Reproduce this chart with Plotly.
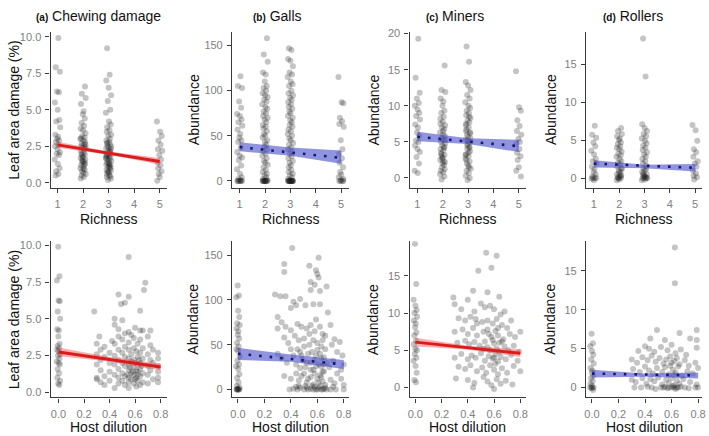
import plotly.graph_objects as go

# ---------------- data ----------------
# hand-typed jitter offsets (fraction of the jitter width)
jit = [0.31, -0.62, 0.84, -0.18, 0.52, -0.91, 0.07, 0.69, -0.43, 0.95, -0.74, 0.22, -0.09, 0.61, -0.52,
       0.38, -0.83, 0.02, 0.88, -0.29, 0.57, -0.97, 0.14, 0.76, -0.47, 0.33, -0.66, 0.92, -0.13, 0.45,
       -0.78, 0.26, -0.56, 0.65, -0.36, 0.04, -0.87, 0.81, -0.06, 0.49, -0.25, 0.72, -0.69, 0.17, -0.94,
       0.58, -0.39, 0.11, 0.98, -0.51, 0.29, -0.81, 0.63, -0.16, 0.41, -0.72, 0.86, -0.33, 0.19, -0.59]

richness_levels = [1, 2, 3, 5]

# (a) chewing damage, % leaf area
chew_mono = [9.9, 7.9, 7.6, 6.25, 6.2, 5.5, 5.0, 4.3, 4.2, 3.8, 3.3, 3.15, 3.0, 2.9, 2.8, 2.6, 2.5, 2.3,
             2.1, 2.0, 1.9, 1.6, 1.3, 1.0, 0.8, 0.6, 0.5]
chew_r2 = [6.6, 6.1, 5.8, 5.4, 4.9, 4.7, 4.4, 4.1, 3.9, 3.7, 3.6, 3.4, 3.2, 3.1, 3.0, 2.9, 2.8, 2.7, 2.6,
           2.5, 2.45, 2.4, 2.3, 2.2, 2.1, 2.0, 1.95, 1.9, 1.8, 1.7, 1.6, 1.5, 1.45, 1.4, 1.3, 1.2, 1.1,
           1.0, 0.9, 0.8, 0.7, 0.6, 0.5, 0.4, 0.3, 2.35, 1.75, 1.25, 3.05, 2.65, 1.55, 0.95]
chew_r3 = [9.2, 7.4, 7.0, 6.5, 6.0, 5.6, 5.0, 4.8, 4.2, 4.0, 3.8, 3.6, 3.5, 3.3, 3.2, 3.0, 2.9, 2.8, 2.7,
           2.6, 2.5, 2.4, 2.35, 2.3, 2.2, 2.1, 2.0, 1.95, 1.9, 1.8, 1.75, 1.7, 1.6, 1.55, 1.5, 1.4, 1.3,
           1.25, 1.2, 1.1, 1.0, 0.9, 0.85, 0.8, 0.7, 0.6, 0.5, 0.4, 0.3, 0.2, 2.15, 1.65, 1.35, 1.05,
           2.75, 2.45, 1.85, 1.15, 0.75, 0.45]
chew_r5 = [4.2, 3.5, 3.2, 2.9, 2.6, 2.3, 2.2, 1.9, 1.6, 1.4, 1.2, 1.0, 0.8, 0.6, 0.4, 0.15]
chew_mix = [(0.28, 5.5), (0.30, 3.3), (0.30, 2.6), (0.30, 1.9), (0.30, 1.0), (0.30, 0.9), (0.32, 3.8),
            (0.33, 2.9), (0.33, 2.2), (0.33, 1.5), (0.33, 0.7), (0.36, 3.1), (0.36, 2.4), (0.36, 1.1),
            (0.36, 0.5), (0.40, 2.7), (0.40, 2.0), (0.40, 1.4), (0.40, 0.8), (0.42, 3.5), (0.44, 5.0),
            (0.44, 4.6), (0.44, 3.3), (0.44, 2.5), (0.44, 1.9), (0.44, 1.2), (0.44, 0.3), (0.47, 6.65),
            (0.47, 4.3), (0.47, 3.8), (0.47, 2.9), (0.47, 2.2), (0.47, 1.6), (0.47, 1.0), (0.47, 0.6),
            (0.49, 6.0), (0.50, 4.9), (0.50, 3.6), (0.50, 2.7), (0.50, 2.0), (0.50, 1.3), (0.50, 0.8),
            (0.52, 6.1), (0.52, 4.0), (0.52, 3.1), (0.52, 2.4), (0.52, 1.8), (0.52, 1.1), (0.52, 0.5),
            (0.55, 9.2), (0.55, 6.5), (0.55, 4.1), (0.55, 3.4), (0.55, 2.9), (0.55, 2.3), (0.55, 1.9),
            (0.55, 1.5), (0.55, 1.0), (0.55, 0.7), (0.55, 0.3), (0.57, 3.9), (0.57, 2.6), (0.57, 2.1),
            (0.57, 1.3), (0.57, 0.9), (0.59, 3.7), (0.59, 3.0), (0.59, 2.2), (0.59, 1.7), (0.59, 1.2),
            (0.59, 0.6), (0.60, 4.4), (0.61, 2.8), (0.61, 1.5), (0.61, 1.0), (0.61, 0.4), (0.62, 3.3),
            (0.62, 2.4), (0.62, 1.9), (0.62, 1.4), (0.62, 0.8), (0.64, 5.55), (0.64, 4.2), (0.64, 3.6),
            (0.64, 2.7), (0.64, 2.0), (0.64, 1.6), (0.64, 1.1), (0.64, 0.5), (0.66, 4.2), (0.66, 3.0),
            (0.66, 2.3), (0.66, 1.3), (0.66, 0.7), (0.67, 6.95), (0.68, 7.45), (0.70, 3.8), (0.70, 2.6),
            (0.70, 1.8), (0.70, 1.2), (0.70, 0.6), (0.72, 4.2), (0.72, 3.2), (0.72, 2.2), (0.72, 1.5),
            (0.74, 2.9), (0.74, 2.0), (0.74, 0.9), (0.78, 2.7), (0.78, 2.3), (0.78, 1.8), (0.78, 1.4),
            (0.78, 1.0), (0.78, 0.7), (0.58, 1.4), (0.60, 0.9), (0.62, 1.2), (0.63, 2.2), (0.56, 1.7),
            (0.65, 1.8), (0.54, 1.2), (0.60, 2.0)]

# (b) galls, abundance
galls_mono = [116, 105, 103, 88, 81, 74, 72, 68, 65, 61, 57, 52, 48, 45, 43, 37, 32, 28, 26, 23, 17, 13,
              8, 4, 2, 1, 0, 0, 0, 0, 0, 0]
galls_r2 = [158, 140, 132, 120, 118, 110, 105, 103, 100, 97, 95, 93, 90, 88, 85, 82, 80, 77, 75, 72, 70,
            68, 65, 62, 60, 58, 55, 52, 50, 48, 45, 43, 40, 38, 35, 33, 30, 28, 25, 22, 20, 18, 15, 12,
            10, 8, 6, 4, 2, 1, 0, 0, 0, 0, 0, 0, 0, 0, 0, 0]
galls_r3 = [147, 145, 135, 133, 127, 120, 118, 115, 110, 107, 105, 100, 97, 95, 92, 90, 87, 85, 82, 80,
            77, 75, 72, 70, 67, 65, 62, 60, 57, 55, 52, 50, 47, 45, 42, 40, 37, 35, 32, 30, 27, 25, 22,
            20, 17, 15, 12, 10, 8, 6, 4, 2, 1, 0, 0, 0, 0, 0, 0, 0, 0, 0, 0, 0, 0, 0, 0]
galls_r5 = [115, 87, 86, 70, 66, 63, 60, 45, 35, 30, 25, 20, 15, 10, 7, 4, 2, 1, 0, 0, 0, 0]
galls_mix = [(0.41, 158), (0.35, 140), (0.35, 131), (0.54, 138), (0.61, 147), (0.59, 133), (0.60, 129),
             (0.61, 125), (0.55, 120), (0.58, 117), (0.55, 111), (0.62, 110), (0.67, 115), (0.28, 106),
             (0.32, 104), (0.36, 104), (0.47, 101), (0.42, 98), (0.44, 94), (0.40, 91), (0.51, 94),
             (0.57, 95), (0.62, 95), (0.68, 86), (0.59, 78), (0.30, 81), (0.33, 75), (0.36, 70),
             (0.30, 68), (0.40, 66), (0.45, 73), (0.48, 70), (0.52, 68), (0.55, 72), (0.58, 65),
             (0.62, 70), (0.64, 62), (0.70, 72), (0.73, 56), (0.77, 53), (0.35, 58), (0.38, 52),
             (0.43, 60), (0.46, 55), (0.50, 57), (0.54, 50), (0.57, 55), (0.60, 52), (0.63, 48),
             (0.66, 45), (0.71, 50), (0.75, 42), (0.79, 38), (0.30, 40), (0.33, 35), (0.37, 30),
             (0.40, 45), (0.42, 38), (0.44, 28), (0.47, 42), (0.49, 33), (0.51, 25), (0.53, 40),
             (0.55, 30), (0.57, 22), (0.59, 38), (0.61, 28), (0.63, 35), (0.65, 20), (0.67, 30),
             (0.69, 25), (0.72, 32), (0.75, 18), (0.78, 22), (0.80, 28), (0.35, 15), (0.40, 12),
             (0.44, 18), (0.46, 10), (0.48, 15), (0.52, 8), (0.55, 14), (0.57, 6), (0.60, 12),
             (0.62, 16), (0.64, 9), (0.66, 5), (0.70, 11), (0.73, 7), (0.78, 12), (0.80, 5), (0.39, 0),
             (0.42, 1), (0.45, 0), (0.47, 2), (0.50, 0), (0.53, 0), (0.55, 1), (0.57, 0), (0.59, 0),
             (0.61, 2), (0.63, 0), (0.64, 0), (0.65, 1), (0.67, 0), (0.70, 0), (0.74, 0), (0.80, 0),
             (0.60, 0), (0.52, 2), (0.44, 3), (0.45, 45), (0.48, 38), (0.50, 48), (0.52, 30),
             (0.54, 62), (0.56, 42), (0.58, 33), (0.60, 44), (0.62, 40), (0.63, 26), (0.64, 55),
             (0.65, 36), (0.66, 60), (0.55, 22), (0.58, 18), (0.61, 8), (0.63, 14), (0.65, 28),
             (0.47, 24), (0.50, 18), (0.53, 12), (0.56, 4), (0.59, 26), (0.62, 4), (0.64, 20),
             (0.46, 4), (0.51, 4), (0.58, 3), (0.66, 2), (0.72, 3)]

# (c) miners, abundance
miners_mono = [19.3, 13.9, 11.8, 11.0, 10.4, 10.0, 9.5, 9.0, 8.6, 8.1, 7.4, 7.0, 6.3, 5.8, 5.2, 5.0, 4.5,
               4.0, 3.6, 2.9, 2.0, 1.0, 0.7]
miners_r2 = [15.6, 12.2, 11.9, 11.0, 10.6, 10.0, 9.3, 9.0, 8.5, 8.2, 7.8, 7.3, 7.0, 6.8, 6.3, 6.0, 5.8,
             5.5, 5.2, 5.0, 4.8, 4.5, 4.2, 4.0, 3.8, 3.5, 3.2, 3.0, 2.8, 2.5, 2.2, 2.0, 1.8, 1.5, 1.2,
             1.0, 0.8, 0.5, 0.2, -0.2, 6.5, 5.3, 3.3, 2.3, 7.5, 4.3, 2.7]
miners_r3 = [18.2, 16.1, 13.3, 12.8, 12.2, 11.5, 11.0, 10.5, 10.0, 9.7, 9.3, 9.0, 8.7, 8.3, 8.0, 7.7,
             7.3, 7.0, 6.7, 6.3, 6.0, 5.7, 5.3, 5.0, 4.7, 4.3, 4.0, 3.7, 3.3, 3.0, 2.7, 2.3, 2.0, 1.7,
             1.3, 1.0, 0.7, 0.3, 0.0, -0.3, 8.5, 6.5, 5.5, 4.5, 3.5, 2.5, 1.5, 7.5, 6.2, 5.2, 4.2, 3.2]
miners_r5 = [14.8, 9.8, 9.3, 8.0, 7.2, 6.5, 6.0, 5.4, 5.0, 4.7, 4.0, 3.5, 3.0, 2.5, 1.5, 1.0, 0.2]
miners_mix = [(0.54, 18.1), (0.62, 17.7), (0.48, 15.7), (0.58, 16.1), (0.29, 12.1), (0.44, 13.0),
              (0.55, 12.8), (0.64, 12.2), (0.30, 11.2), (0.35, 10.5), (0.40, 11.8), (0.45, 10.2),
              (0.50, 11.3), (0.53, 10.8), (0.57, 11.0), (0.60, 10.5), (0.65, 9.8), (0.68, 10.2),
              (0.33, 9.3), (0.38, 9.0), (0.42, 9.5), (0.46, 9.2), (0.51, 8.8), (0.55, 9.0), (0.59, 8.6),
              (0.62, 9.2), (0.66, 8.4), (0.70, 8.0), (0.73, 9.0), (0.30, 7.5), (0.36, 7.8), (0.40, 7.2),
              (0.44, 8.0), (0.47, 7.0), (0.52, 7.5), (0.56, 7.2), (0.58, 6.8), (0.61, 7.6), (0.63, 7.0),
              (0.67, 6.5), (0.72, 7.2), (0.76, 6.8), (0.80, 7.5), (0.32, 6.0), (0.38, 6.3), (0.41, 5.8),
              (0.45, 6.1), (0.49, 5.6), (0.53, 6.2), (0.55, 5.4), (0.60, 5.9), (0.62, 5.2), (0.64, 6.0),
              (0.68, 5.5), (0.71, 5.0), (0.75, 5.6), (0.79, 4.8), (0.30, 4.0), (0.35, 4.5), (0.40, 3.8),
              (0.43, 4.3), (0.46, 4.0), (0.50, 4.6), (0.53, 3.6), (0.56, 4.2), (0.59, 3.9), (0.61, 4.5),
              (0.63, 3.5), (0.65, 4.1), (0.69, 3.8), (0.73, 4.4), (0.78, 3.6), (0.33, 2.8), (0.38, 2.5),
              (0.42, 3.0), (0.47, 2.2), (0.51, 2.7), (0.54, 2.0), (0.57, 3.0), (0.60, 2.4), (0.63, 1.8),
              (0.66, 2.6), (0.70, 2.0), (0.75, 2.9), (0.80, 2.2), (0.31, 1.2), (0.40, 1.0), (0.45, 0.6),
              (0.52, 1.4), (0.55, 0.8), (0.58, 0.3), (0.62, 1.1), (0.65, 0.5), (0.69, 0.9), (0.74, 0.4),
              (0.44, 0.0), (0.60, -0.2), (0.57, 5.0), (0.59, 6.4), (0.61, 3.2), (0.63, 8.0), (0.64, 4.8),
              (0.55, 7.8), (0.52, 5.2), (0.47, 8.6), (0.66, 6.2), (0.60, 4.0)]

# (d) rollers, abundance
rollers_mono = [6.9, 5.7, 5.3, 4.7, 4.2, 3.6, 3.1, 2.5, 2.2, 1.9, 1.5, 1.2, 0.8, 0.5, 0.2, 0.0, -0.1,
                -0.3, 0.0, 0.0]
rollers_r2 = [6.6, 6.2, 5.8, 5.5, 5.2, 5.0, 4.7, 4.5, 4.2, 4.0, 3.8, 3.5, 3.2, 3.0, 2.8, 2.5, 2.2, 2.0,
              1.8, 1.5, 1.2, 1.0, 0.8, 0.5, 0.3, 0.1, 0.0, 0.0, -0.2, -0.3, 1.3, 0.7, 0.2, 0.0, 0.4]
rollers_r3 = [18.4, 13.4, 7.1, 6.6, 6.2, 5.8, 5.5, 5.2, 4.9, 4.6, 4.3, 4.0, 3.7, 3.4, 3.1, 2.8, 2.5, 2.2,
              1.9, 1.6, 1.3, 1.0, 0.8, 0.5, 0.3, 0.1, 0.0, 0.0, 0.0, -0.2, -0.3, 1.2, 0.6, 0.2, 0.0, 0.4]
rollers_r5 = [7.0, 6.3, 4.9, 3.8, 3.4, 2.8, 2.2, 1.9, 1.5, 1.0, 0.6, 0.3, 0.1, -0.2]
rollers_mix = [(0.625, 18.0), (0.625, 13.4), (0.49, 7.4), (0.79, 7.4), (0.66, 7.0), (0.44, 6.3),
               (0.55, 6.1), (0.74, 6.3), (0.79, 6.1), (0.79, 5.1), (0.35, 4.7), (0.40, 5.3), (0.43, 5.0),
               (0.47, 4.6), (0.52, 5.2), (0.57, 4.8), (0.60, 5.5), (0.63, 4.4), (0.67, 4.9), (0.71, 4.2),
               (0.30, 3.6), (0.34, 3.2), (0.38, 3.9), (0.42, 3.5), (0.45, 4.1), (0.48, 3.3), (0.51, 3.8),
               (0.54, 3.1), (0.56, 3.6), (0.59, 4.0), (0.62, 3.4), (0.64, 3.8), (0.66, 3.0), (0.70, 3.5),
               (0.73, 2.8), (0.78, 3.2), (0.31, 2.4), (0.36, 2.0), (0.40, 2.7), (0.43, 2.2), (0.46, 1.8),
               (0.49, 2.5), (0.53, 2.0), (0.55, 2.6), (0.58, 1.7), (0.61, 2.3), (0.63, 1.9), (0.65, 2.7),
               (0.68, 1.5), (0.72, 2.1), (0.76, 1.8), (0.80, 2.5), (0.30, 1.0), (0.33, 0.7), (0.38, 1.2),
               (0.41, 0.5), (0.44, 1.1), (0.47, 0.8), (0.50, 1.3), (0.53, 0.4), (0.56, 1.0), (0.58, 0.6),
               (0.60, 1.2), (0.62, 0.3), (0.64, 0.9), (0.66, 0.5), (0.69, 1.1), (0.74, 0.7), (0.79, 0.4),
               (0.32, 0.0), (0.37, 0.0), (0.42, 0.1), (0.45, 0.0), (0.48, -0.2), (0.52, 0.0), (0.55, 0.1),
               (0.57, -0.1), (0.60, 0.0), (0.62, 0.0), (0.63, -0.2), (0.65, 0.0), (0.67, 0.1), (0.70, 0.0),
               (0.73, -0.1), (0.78, 0.0), (0.80, 0.0), (0.58, 0.0), (0.61, 0.2), (0.64, 0.0), (0.54, 0.0),
               (0.59, 2.8), (0.62, 1.6), (0.60, 3.2)]

# fitted lines and confidence bands (start / middle / end)
rich_line_x = [1, 5]
rich_band_x = [1, 3, 5]
dil_line_x = [0, 0.8]
dil_band_x = [0, 0.4, 0.8]

chew_rich_fit = [2.6, 1.47]
chew_rich_lo = [2.4, 1.92, 1.25]
chew_rich_hi = [2.82, 2.15, 1.7]
chew_dil_fit = [2.75, 1.72]
chew_dil_lo = [2.45, 2.1, 1.5]
chew_dil_hi = [3.05, 2.4, 1.95]

galls_rich_fit = [37.5, 25.5]
galls_rich_lo = [32.8, 28, 19]
galls_rich_hi = [42.7, 37, 33.6]
galls_dil_fit = [40, 28]
galls_dil_lo = [33, 31, 23]
galls_dil_hi = [46.5, 39, 33]

miners_rich_fit = [5.7, 4.4]
miners_rich_lo = [5.1, 4.7, 3.6]
miners_rich_hi = [6.4, 5.5, 5.3]
miners_dil_fit = [6.1, 4.6]
miners_dil_lo = [5.5, 5.1, 4.1]
miners_dil_hi = [6.7, 5.6, 5.1]

rollers_rich_fit = [1.9, 1.35]
rollers_rich_lo = [1.4, 1.3, 0.85]
rollers_rich_hi = [2.35, 1.75, 1.85]
rollers_dil_fit = [1.8, 1.55]
rollers_dil_lo = [1.3, 1.4, 1.15]
rollers_dil_hi = [2.3, 1.8, 1.95]

# ---------------- figure ----------------
RED = "#dc1c1c"
RED_BAND = "rgba(232,80,80,0.45)"
NAVY = "#171773"
BLUE_BAND = "rgba(70,76,200,0.6)"
W, H = 709, 436

fig = go.Figure()


def ax_id(k):
    return "" if k == 1 else str(k)


def jittered(level, vals, width, shift):
    return [level + width * jit[(i + shift) % len(jit)] for i in range(len(vals))]


def add_points(k, xs, ys):
    fig.add_trace(go.Scatter(
        x=xs, y=ys, mode="markers",
        marker=dict(size=6, color="#1a1a1a", opacity=0.26, line=dict(width=0)),
        xaxis="x" + ax_id(k), yaxis="y" + ax_id(k), showlegend=False, hoverinfo="skip"))


def add_fit(k, lx, ly, bx, lo, hi, significant):
    fig.add_trace(go.Scatter(
        x=bx + bx[::-1], y=hi + lo[::-1], fill="toself", mode="lines", line=dict(width=0),
        fillcolor=RED_BAND if significant else BLUE_BAND,
        xaxis="x" + ax_id(k), yaxis="y" + ax_id(k), showlegend=False, hoverinfo="skip"))
    if significant:
        line = dict(color=RED, width=3)
    else:
        line = dict(color=NAVY, width=2.6, dash="2.6px,8px")
    fig.add_trace(go.Scatter(
        x=lx, y=ly, mode="lines", line=line,
        xaxis="x" + ax_id(k), yaxis="y" + ax_id(k), showlegend=False, hoverinfo="skip"))


top = [
    (chew_mono, chew_r2, chew_r3, chew_r5, chew_rich_fit, chew_rich_lo, chew_rich_hi, True),
    (galls_mono, galls_r2, galls_r3, galls_r5, galls_rich_fit, galls_rich_lo, galls_rich_hi, False),
    (miners_mono, miners_r2, miners_r3, miners_r5, miners_rich_fit, miners_rich_lo, miners_rich_hi, False),
    (rollers_mono, rollers_r2, rollers_r3, rollers_r5, rollers_rich_fit, rollers_rich_lo, rollers_rich_hi, False),
]
bottom = [
    (chew_mono, chew_mix, chew_dil_fit, chew_dil_lo, chew_dil_hi, True),
    (galls_mono, galls_mix, galls_dil_fit, galls_dil_lo, galls_dil_hi, False),
    (miners_mono, miners_mix, miners_dil_fit, miners_dil_lo, miners_dil_hi, True),
    (rollers_mono, rollers_mix, rollers_dil_fit, rollers_dil_lo, rollers_dil_hi, False),
]

for c, (mono, r2, r3, r5, fit, lo, hi, sig) in enumerate(top):
    k = c + 1
    xs, ys = [], []
    for s, (lvl, vals) in enumerate(zip(richness_levels, [mono, r2, r3, r5])):
        xs += jittered(lvl, vals, 0.11, 7 * s)
        ys += vals
    add_points(k, xs, ys)
    add_fit(k, rich_line_x, fit, rich_band_x, lo, hi, sig)

for c, (mono, mix, fit, lo, hi, sig) in enumerate(bottom):
    k = c + 5
    xs = jittered(0, mono, 0.014, 3) + [p[0] for p in mix]
    ys = mono + [p[1] for p in mix]
    add_points(k, xs, ys)
    add_fit(k, dil_line_x, fit, dil_band_x, lo, hi, sig)

# panel geometry in pixels
cols_px = [(49, 166), (232, 350), (411, 528), (589, 706)]
rows_px = [(28, 186), (240, 398)]

top_x_ranges = [[0.73, 5.27], [0.70, 5.31], [0.69, 5.27], [0.69, 5.27]]
top_y_ranges = [[-0.34, 10.34], [-7.7, 165.3], [-1.37, 20.27], [-1.3, 19.3]]
bot_x_ranges = [[-0.062, 0.847], [-0.045, 0.84], [-0.044, 0.84], [-0.045, 0.83]]
bot_y_ranges = [[-0.34, 10.27], [-8.8, 165.4], [-1.33, 19.65], [-1.27, 18.8]]
y_ticks = [
    ([0, 2.5, 5, 7.5, 10], ["0.0", "2.5", "5.0", "7.5", "10.0"]),
    ([0, 50, 100, 150], ["0", "50", "100", "150"]),
    ([0, 5, 10, 15, 20], ["0", "5", "10", "15", "20"]),
    ([0, 5, 10, 15], ["0", "5", "10", "15"]),
]
y_ticks_bottom = [
    y_ticks[0], y_ticks[1],
    ([0, 5, 10, 15], ["0", "5", "10", "15"]),
    ([0, 5, 10, 15], ["0", "5", "10", "15"]),
]

axis_style = dict(
    showline=True, linecolor="#3a3a3a", linewidth=1.2, ticks="outside", ticklen=4,
    tickcolor="#3a3a3a", tickwidth=1, showgrid=False, zeroline=False, fixedrange=True,
    tickfont=dict(size=11, color="#808080"), ticklabelstandoff=2,
)

layout = {}
for r in range(2):
    for c in range(4):
        k = r * 4 + c + 1
        x0, x1 = cols_px[c]
        y0, y1 = rows_px[r]
        xa = dict(axis_style, domain=[x0 / W, x1 / W], anchor="y" + ax_id(k))
        ya = dict(axis_style, domain=[1 - y1 / H, 1 - y0 / H], anchor="x" + ax_id(k))
        if r == 0:
            xa.update(range=top_x_ranges[c], tickvals=[1, 2, 3, 4, 5], ticktext=["1", "2", "3", "4", "5"])
            ya.update(range=top_y_ranges[c], tickvals=y_ticks[c][0], ticktext=y_ticks[c][1])
        else:
            xa.update(range=bot_x_ranges[c], tickvals=[0, 0.2, 0.4, 0.6, 0.8],
                      ticktext=["0.0", "0.2", "0.4", "0.6", "0.8"])
            ya.update(range=bot_y_ranges[c], tickvals=y_ticks_bottom[c][0], ticktext=y_ticks_bottom[c][1])
        layout["xaxis" + ax_id(k)] = xa
        layout["yaxis" + ax_id(k)] = ya

annotations = []
titles = [("(a)", "Chewing damage", 97), ("(b)", "Galls", 278), ("(c)", "Miners", 457), ("(d)", "Rollers", 636)]
for tag, name, cx in titles:
    annotations.append(dict(
        text="<b><span style='font-size:10px'>" + tag + "</span></b> " + name,
        x=cx / W, y=1 - 12 / H, xref="paper", yref="paper", showarrow=False,
        font=dict(size=14, color="#111111"), xanchor="center", yanchor="middle"))

y_title_x = [12, 193, 375, 553]
y_titles = ["Leaf area damage (%)", "Abundance", "Abundance", "Abundance"]
for r in range(2):
    y0, y1 = rows_px[r]
    for c in range(4):
        x0, x1 = cols_px[c]
        annotations.append(dict(
            text="Richness" if r == 0 else "Host dilution",
            x=(x0 + x1) / 2 / W, y=1 - (217 if r == 0 else 428) / H, xref="paper", yref="paper",
            showarrow=False, font=dict(size=14, color="#111111"), xanchor="center", yanchor="middle"))
        annotations.append(dict(
            text=y_titles[c], textangle=-90,
            x=y_title_x[c] / W, y=1 - (y0 + y1) / 2 / H, xref="paper", yref="paper",
            showarrow=False, font=dict(size=14, color="#111111"), xanchor="center", yanchor="middle"))

fig.update_layout(
    width=W, height=H,
    margin=dict(l=0, r=0, t=0, b=0),
    paper_bgcolor="white", plot_bgcolor="white",
    font=dict(family="Liberation Sans, Arial, sans-serif"),
    annotations=annotations,
    **layout,
)

# the page body has a default 8px margin; drop it so the figure fills the window
fig.write_html("out.html", config={"displayModeBar": False},
               post_script="document.body.style.margin='0';")
